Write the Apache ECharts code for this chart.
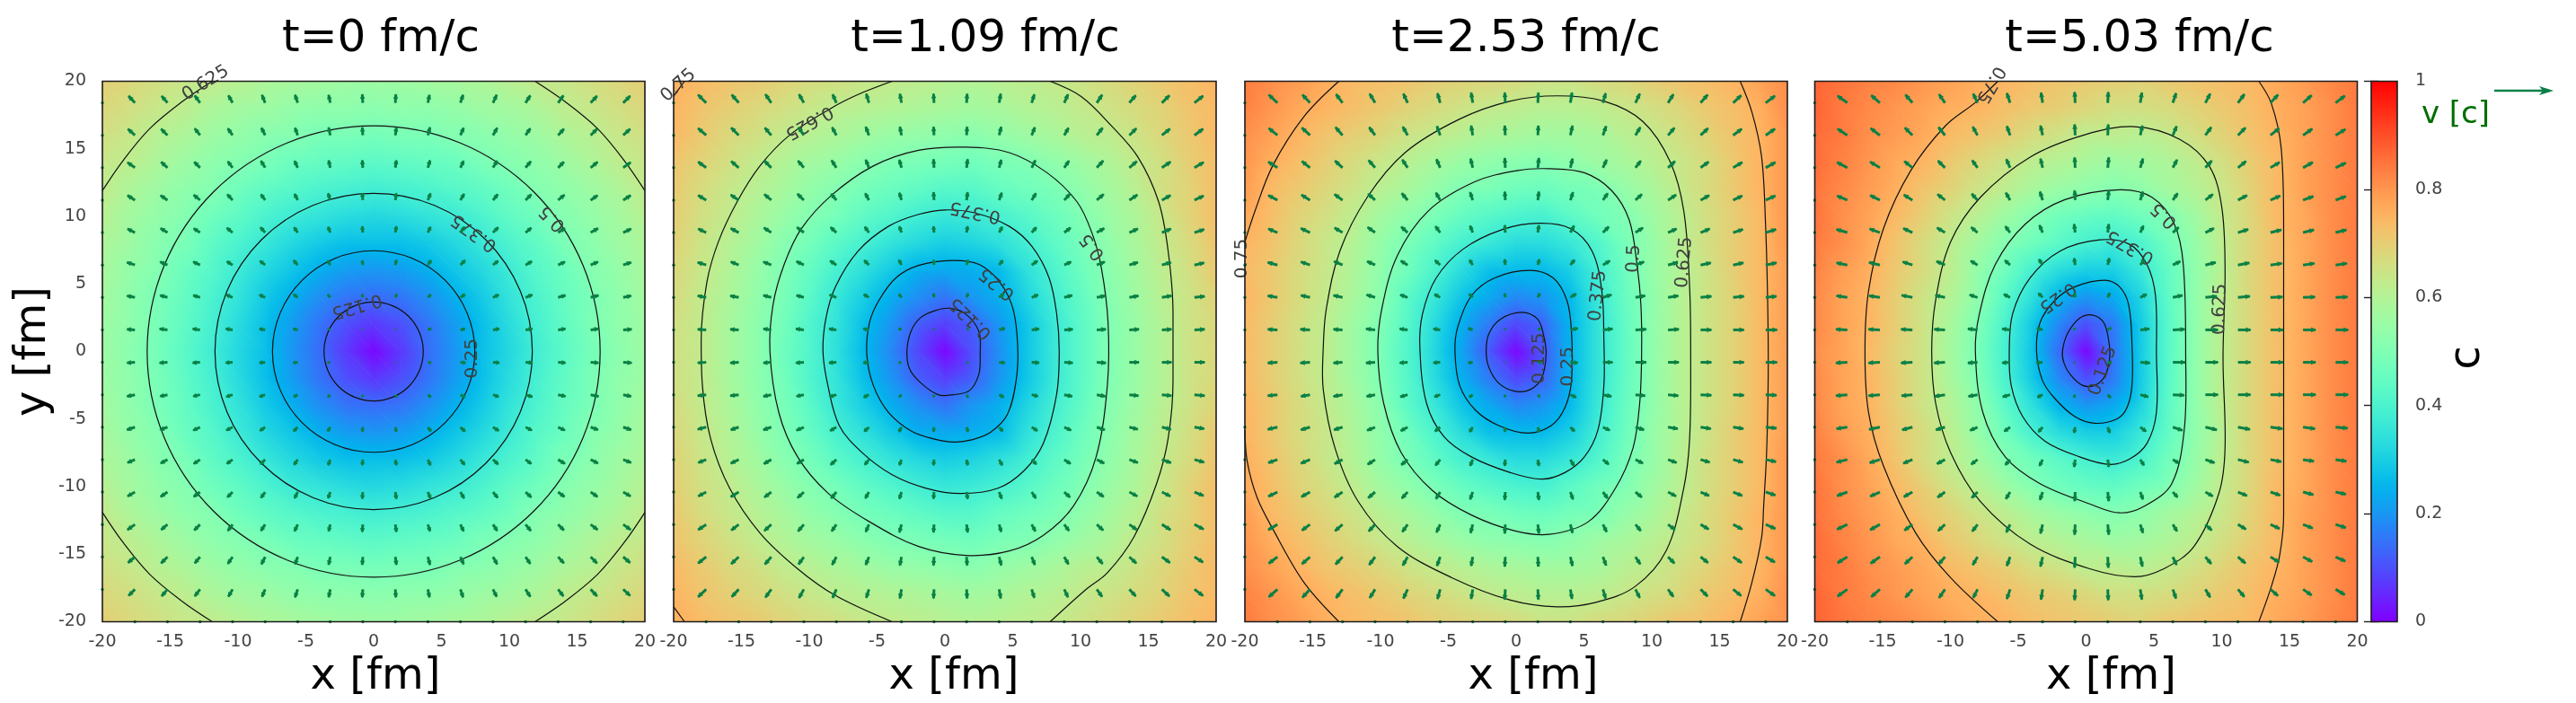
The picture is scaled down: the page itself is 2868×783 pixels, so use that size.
<!DOCTYPE html>
<html><head><meta charset="utf-8">
<style>html,body{margin:0;padding:0;background:#fff}#chart{width:2868px;height:783px}</style>
<script src="https://cdn.jsdelivr.net/npm/echarts@6/dist/echarts.min.js"></script>
</head><body><div id="chart"></div>
<script>
// ---------- tick labels / titles ----------
const panelTitles = ['t=0 fm/c','t=1.09 fm/c','t=2.53 fm/c','t=5.03 fm/c'];
// field sample positions (fm)
const fieldX = [-20,-18,-16,-14,-12,-10,-8,-6,-4,-2,0,2,4,6,8,10,12,14,16,18,20];
const fieldY = [20,18,16,14,12,10,8,6,4,2,0,-2,-4,-6,-8,-10,-12,-14,-16,-18,-20];
// colour value c, in hundredths; row = fieldY, col = fieldX
const cT0 = [
[70,68,66,64,63,61,59,58,57,56,56,56,57,58,59,61,63,64,66,68,70],
[68,66,64,62,59,57,56,54,53,53,52,53,53,54,56,57,59,62,64,66,68],
[66,64,61,59,56,54,52,51,49,49,48,49,49,51,52,54,56,59,61,64,66],
[64,62,59,56,53,51,49,46,45,44,43,44,45,46,49,51,53,56,59,62,64],
[63,59,56,53,51,47,44,42,40,39,38,39,40,42,44,47,51,53,56,59,63],
[61,57,54,51,47,44,40,37,35,33,32,33,35,37,40,44,47,51,54,57,61],
[59,56,52,49,44,40,36,32,29,27,27,27,29,32,36,40,44,49,52,56,59],
[58,54,51,46,42,37,32,28,24,21,20,21,24,28,32,37,42,46,51,54,58],
[57,53,49,45,40,35,29,24,19,15,14,15,19,24,29,35,40,45,49,53,57],
[56,53,49,44,39,33,27,21,15,10,7,10,15,21,27,33,39,44,49,53,56],
[56,52,48,43,38,32,27,20,14,7,1,7,14,20,27,32,38,43,48,52,56],
[56,53,49,44,39,33,27,21,15,10,7,10,15,21,27,33,39,44,49,53,56],
[57,53,49,45,40,35,29,24,19,15,14,15,19,24,29,35,40,45,49,53,57],
[58,54,51,46,42,37,32,28,24,21,20,21,24,28,32,37,42,46,51,54,58],
[59,56,52,49,44,40,36,32,29,27,27,27,29,32,36,40,44,49,52,56,59],
[61,57,54,51,47,44,40,37,35,33,32,33,35,37,40,44,47,51,54,57,61],
[63,59,56,53,51,47,44,42,40,39,38,39,40,42,44,47,51,53,56,59,63],
[64,62,59,56,53,51,49,46,45,44,43,44,45,46,49,51,53,56,59,62,64],
[66,64,61,59,56,54,52,51,49,49,48,49,49,51,52,54,56,59,61,64,66],
[68,66,64,62,59,57,56,54,53,53,52,53,53,54,56,57,59,62,64,66,68],
[70,68,66,64,63,61,59,58,57,56,56,56,57,58,59,61,63,64,66,68,70]];
const cT1 = [
[76,74,72,71,69,67,66,64,63,62,61,60,61,62,63,65,67,69,71,73,75],
[75,72,70,68,66,64,62,61,60,59,58,57,58,60,61,63,65,67,69,72,74],
[74,71,68,66,63,61,59,57,55,54,53,52,54,56,58,61,62,65,68,71,74],
[72,69,66,63,60,57,55,52,50,49,48,47,49,50,53,56,59,63,66,70,73],
[71,67,64,61,58,54,51,48,46,44,42,42,45,47,49,53,57,61,66,69,73],
[70,66,63,59,55,51,48,44,41,38,36,37,39,42,46,50,55,59,64,69,73],
[69,65,61,57,52,48,43,39,35,32,30,31,34,38,43,48,53,58,63,67,72],
[68,64,60,55,50,45,39,34,29,24,23,24,26,34,40,46,52,57,62,66,71],
[67,63,59,54,49,43,36,30,24,19,15,20,24,31,38,44,51,56,61,65,69],
[66,63,58,53,48,41,35,27,20,12,8,12,20,28,36,43,50,55,60,65,68],
[66,63,58,53,47,41,34,26,18,9,1,10,19,28,36,43,50,55,60,65,68],
[66,63,58,53,48,41,35,27,20,12,8,12,20,28,36,43,50,55,60,65,68],
[67,63,59,54,49,43,36,30,24,19,15,20,24,31,38,44,51,56,61,65,69],
[68,64,60,55,50,45,39,34,29,24,23,24,26,34,40,46,52,57,62,66,71],
[69,65,61,57,52,48,43,39,35,32,30,31,34,38,43,48,53,58,63,67,72],
[70,66,63,59,55,51,48,44,41,38,36,37,39,42,46,50,55,59,64,69,73],
[71,67,64,61,58,54,51,48,46,44,42,42,45,47,49,53,57,61,66,69,73],
[72,69,66,63,60,57,55,52,50,49,48,47,49,50,53,56,59,63,66,70,73],
[74,71,68,66,63,61,59,57,55,54,53,52,54,56,58,61,62,65,68,71,74],
[75,72,70,68,66,64,62,61,60,59,58,57,58,60,61,63,65,67,69,72,74],
[76,74,72,71,69,67,66,64,63,62,61,60,61,62,63,65,67,69,71,73,75]];
const cT2 = [
[84,81,79,76,74,73,72,70,69,68,67,65,65,67,68,70,72,73,75,78,81],
[83,80,77,75,73,71,69,67,65,63,62,61,61,62,64,66,68,71,73,76,81],
[81,78,75,72,70,68,65,63,61,59,58,57,57,58,61,63,66,69,72,75,80],
[80,76,73,70,67,64,61,58,55,53,52,51,53,56,58,61,64,67,71,75,80],
[79,74,71,68,65,61,58,54,50,49,47,46,48,49,54,58,63,67,71,75,80],
[77,73,69,66,62,57,53,49,45,42,40,39,43,47,50,56,61,66,70,74,80],
[75,72,68,64,60,54,49,44,39,36,33,33,36,41,48,54,61,66,70,74,80],
[74,71,67,64,59,53,47,40,33,27,26,26,30,38,46,54,60,65,70,74,79],
[75,71,67,63,58,52,43,36,28,23,18,20,26,36,45,53,60,65,69,74,79],
[74,70,66,62,56,50,42,33,24,16,9,13,25,35,44,53,60,65,69,74,79],
[74,70,66,62,56,49,41,32,22,11,1,11,25,35,44,53,60,65,69,74,79],
[74,70,66,62,56,50,42,33,24,16,9,13,25,35,44,53,60,65,69,74,79],
[75,71,67,63,58,52,43,36,28,23,18,20,26,36,45,53,60,65,69,74,79],
[75,71,67,64,59,53,47,40,33,27,26,26,30,38,46,54,60,65,70,74,79],
[76,72,68,64,60,54,49,44,39,36,33,33,36,41,48,54,61,66,70,74,80],
[77,73,69,66,62,57,53,49,45,42,40,39,43,47,50,56,61,66,70,74,80],
[79,74,71,68,65,61,58,54,50,49,47,46,48,49,54,58,63,67,71,75,80],
[80,76,73,70,67,64,61,58,55,53,52,51,53,56,58,61,64,67,71,75,80],
[81,78,75,72,70,68,65,63,61,59,58,57,57,58,61,63,66,69,72,75,80],
[83,80,77,75,73,71,69,67,65,63,62,61,61,62,64,66,68,71,73,76,81],
[84,81,79,76,74,73,72,70,69,68,67,65,65,67,68,70,72,73,75,78,81]];
const cT3 = [
[87,85,83,82,80,78,76,75,73,72,71,70,69,71,72,73,74,77,79,82,84],
[87,84,82,80,78,76,75,73,71,70,68,66,66,67,69,71,73,76,78,81,84],
[86,84,81,79,77,74,72,70,67,65,62,62,61,63,66,69,72,75,78,81,84],
[86,83,80,77,75,71,68,65,62,60,58,56,57,59,62,66,70,74,78,81,84],
[85,82,79,76,72,69,65,62,58,55,53,51,53,57,60,64,69,74,78,81,84],
[85,81,78,74,70,65,61,56,51,47,45,44,47,50,56,63,68,74,77,81,84],
[84,81,77,72,67,62,57,51,47,43,39,37,40,47,54,62,68,73,77,81,84],
[83,79,76,71,67,62,54,47,39,33,30,30,36,44,53,61,68,73,77,81,84],
[82,78,75,70,65,60,53,43,34,25,20,23,31,43,53,62,68,73,77,81,84],
[82,78,75,70,65,58,50,40,29,18,10,16,29,42,53,62,68,73,77,81,84],
[81,78,74,69,65,57,49,39,28,14,1,15,29,42,53,62,68,73,77,81,84],
[82,78,75,70,65,58,50,40,29,18,10,16,29,42,53,62,68,73,77,81,84],
[82,78,75,70,65,60,53,43,34,25,20,23,31,43,53,62,68,73,77,81,84],
[83,79,76,71,67,62,54,47,39,33,30,30,36,44,53,61,68,73,77,81,84],
[84,81,77,72,67,62,57,51,47,43,39,37,40,47,54,62,68,73,77,81,84],
[85,81,78,74,70,65,61,56,51,47,45,44,47,50,56,63,68,74,77,81,84],
[85,82,79,76,72,69,65,62,58,55,53,51,53,57,60,64,69,74,78,81,84],
[86,83,80,77,75,71,68,65,62,60,58,56,57,59,62,66,70,74,78,81,84],
[86,84,81,79,77,74,72,70,67,65,62,62,61,63,66,69,72,75,78,81,84],
[87,84,82,80,78,76,75,73,71,70,68,66,66,67,69,71,73,76,78,81,84],
[87,85,83,82,80,78,76,75,73,72,71,70,69,71,72,73,74,77,79,82,84]];

// velocity grid (fm) and components in hundredths of c; row = arrowY, col = arrowX
const arrowX = [-17.6,-15.2,-12.8,-10.4,-8,-5.6,-3.2,-0.8,1.6,4,6.4,8.8,11.2,13.6,16,18.4];
const arrowY = [18.4,16,13.6,11.2,8.8,6.4,4,1.6,-0.8,-3.2,-5.6,-8,-10.4,-12.8,-15.2,-17.6];
const edgeDotPos = [-20];
const vxT0 = [
[-12,-11,-10,-8,-6,-5,-3,-1,1,3,5,7,9,10,12,13],
[-13,-12,-10,-9,-7,-5,-3,-1,2,4,6,8,9,11,12,13],
[-14,-12,-11,-9,-8,-6,-3,-1,2,4,6,8,10,11,13,14],
[-14,-13,-12,-10,-8,-6,-4,-1,2,5,7,9,11,12,13,14],
[-14,-13,-12,-11,-9,-7,-4,-1,2,5,8,10,11,13,14,15],
[-15,-14,-13,-11,-10,-8,-5,-1,2,6,9,10,12,13,14,15],
[-15,-14,-13,-12,-11,-8,-5,-1,3,6,9,11,13,14,15,15],
[-15,-15,-14,-13,-11,-9,-5,-1,2,7,9,12,13,14,15,16],
[-15,-15,-14,-13,-11,-9,-6,-1,2,7,10,12,13,14,15,16],
[-15,-14,-13,-12,-11,-8,-5,-1,3,6,9,11,13,14,15,15],
[-15,-14,-13,-12,-10,-8,-5,-1,2,6,9,11,12,13,14,15],
[-14,-13,-12,-11,-9,-7,-4,-1,2,5,8,10,11,13,14,15],
[-14,-13,-12,-10,-8,-6,-4,-1,2,5,7,9,11,12,13,14],
[-14,-12,-11,-9,-8,-6,-3,-1,2,4,6,8,10,11,13,14],
[-13,-12,-10,-9,-7,-5,-3,-1,2,4,6,8,9,11,12,13],
[-12,-11,-10,-8,-6,-5,-3,-1,1,3,5,7,9,10,12,13]];
const vyT0 = [
[13,13,14,14,15,15,15,16,16,15,15,15,14,14,13,13],
[12,12,13,13,14,14,15,15,15,15,14,14,13,12,12,12],
[10,11,11,12,13,13,14,14,14,14,13,13,12,11,11,10],
[9,9,10,11,11,12,13,13,13,13,12,11,11,10,9,9],
[7,8,8,9,10,10,11,12,12,11,11,10,9,8,8,7],
[5,6,6,7,8,9,9,9,10,9,9,8,7,6,6,5],
[3,4,4,5,5,6,6,7,7,6,6,5,5,4,4,3],
[1,2,2,2,2,2,3,2,2,3,2,2,2,2,2,1],
[-1,-1,-1,-1,-1,-1,-1,-1,-1,-1,-1,-1,-1,-1,-1,-1],
[-3,-3,-3,-4,-4,-4,-5,-5,-6,-5,-5,-4,-4,-3,-3,-3],
[-5,-5,-6,-6,-7,-8,-8,-9,-9,-8,-8,-7,-6,-6,-5,-5],
[-6,-7,-8,-8,-9,-10,-11,-11,-11,-11,-10,-9,-8,-8,-7,-6],
[-8,-9,-9,-10,-11,-12,-12,-13,-13,-12,-12,-11,-10,-9,-9,-8],
[-10,-10,-11,-12,-12,-13,-13,-14,-14,-13,-13,-12,-12,-11,-10,-10],
[-11,-12,-12,-13,-14,-14,-15,-15,-15,-15,-14,-14,-13,-12,-12,-11],
[-12,-13,-13,-14,-14,-15,-15,-15,-15,-15,-15,-14,-14,-13,-13,-12]];
const vxT1 = [
[-15,-13,-11,-9,-7,-5,-3,-1,1,3,5,7,10,12,14,16],
[-15,-14,-12,-10,-8,-6,-3,-1,1,4,6,8,11,13,15,16],
[-15,-14,-13,-11,-9,-6,-4,-1,2,4,7,9,12,14,16,17],
[-15,-15,-13,-12,-10,-7,-4,-1,2,5,8,11,13,15,16,17],
[-15,-15,-14,-13,-11,-8,-4,-1,2,6,9,12,14,16,17,18],
[-16,-15,-15,-14,-12,-9,-5,-1,3,7,11,13,15,16,17,18],
[-16,-16,-15,-14,-13,-10,-5,-1,3,9,12,15,16,17,18,19],
[-16,-16,-15,-15,-14,-11,-6,-1,4,11,14,16,17,18,18,19],
[-16,-16,-15,-15,-14,-11,-6,-1,4,11,14,16,17,18,18,19],
[-16,-16,-15,-14,-13,-10,-5,-1,3,9,12,15,16,17,18,19],
[-16,-15,-15,-14,-12,-9,-5,-1,3,7,11,13,15,16,17,18],
[-15,-15,-14,-13,-11,-8,-4,-1,2,6,9,12,14,16,17,18],
[-15,-15,-13,-12,-10,-7,-4,-1,2,5,8,11,13,15,16,17],
[-15,-14,-13,-11,-9,-6,-4,-1,2,4,7,9,12,14,16,17],
[-15,-14,-12,-10,-8,-6,-3,-1,1,4,6,8,11,13,15,16],
[-15,-13,-11,-9,-7,-5,-3,-1,1,3,5,7,10,12,14,16]];
const vyT1 = [
[15,15,16,16,16,17,17,17,17,17,16,16,15,14,14,13],
[13,14,14,15,15,16,16,16,16,16,15,14,14,13,12,12],
[11,12,13,13,14,15,15,16,16,15,14,13,13,12,11,10],
[9,10,11,12,12,13,14,15,15,14,13,12,11,10,9,8],
[7,8,9,10,10,11,12,12,12,11,10,9,8,7,7,6],
[5,6,6,7,8,9,10,10,10,9,8,6,6,5,5,4],
[3,3,4,4,5,6,7,8,8,7,5,4,3,3,3,2],
[1,1,2,2,2,2,3,3,3,3,2,1,1,1,1,1],
[-1,-1,-1,-1,-1,-1,-1,-1,-1,-1,-1,-1,-1,0,0,0],
[-2,-2,-3,-3,-4,-5,-5,-5,-6,-5,-3,-3,-3,-2,-2,-2],
[-4,-5,-5,-6,-7,-8,-9,-9,-9,-8,-7,-6,-5,-4,-4,-3],
[-6,-7,-8,-8,-10,-10,-11,-11,-11,-11,-9,-8,-7,-6,-6,-5],
[-8,-9,-10,-11,-12,-12,-13,-13,-13,-13,-12,-10,-9,-8,-8,-7],
[-10,-11,-12,-13,-13,-14,-15,-15,-15,-14,-13,-12,-11,-10,-10,-9],
[-12,-13,-14,-14,-15,-15,-16,-16,-16,-16,-15,-14,-13,-12,-11,-10],
[-14,-14,-15,-16,-16,-16,-17,-17,-17,-17,-16,-15,-14,-13,-13,-12]];
const vxT2 = [
[-16,-14,-12,-10,-8,-5,-3,-1,1,3,5,8,10,13,15,17],
[-16,-15,-13,-11,-9,-6,-3,-1,1,4,6,9,12,14,16,17],
[-17,-15,-14,-12,-10,-7,-4,-1,2,4,7,10,13,15,17,18],
[-17,-16,-15,-13,-11,-8,-5,-1,2,5,9,12,15,16,17,18],
[-17,-17,-15,-14,-12,-9,-5,-1,2,7,11,14,16,17,18,19],
[-18,-17,-16,-15,-13,-10,-6,-1,3,8,13,16,18,19,19,20],
[-18,-17,-17,-16,-14,-11,-7,-1,4,11,16,18,19,20,20,20],
[-18,-18,-17,-17,-15,-13,-9,-2,6,14,18,20,20,20,20,21],
[-18,-18,-17,-17,-15,-13,-9,-2,7,14,18,20,20,20,20,21],
[-18,-17,-17,-16,-14,-11,-7,-1,4,11,16,18,19,20,20,20],
[-18,-17,-16,-15,-13,-10,-6,-1,3,8,13,16,18,19,19,20],
[-17,-17,-15,-14,-12,-9,-5,-1,2,7,11,14,16,17,18,19],
[-17,-16,-15,-13,-11,-8,-5,-1,2,5,9,12,15,16,17,18],
[-17,-15,-14,-12,-10,-7,-4,-1,2,4,7,10,13,15,17,18],
[-16,-15,-13,-11,-9,-6,-3,-1,1,4,6,9,12,14,16,17],
[-16,-14,-12,-10,-8,-5,-3,-1,1,3,5,8,10,13,15,17]];
const vyT2 = [
[15,15,16,17,17,18,19,19,19,19,18,17,16,15,14,13],
[13,14,15,15,16,17,18,18,18,18,17,15,14,13,12,12],
[11,12,13,14,15,16,17,18,18,17,15,13,12,11,10,10],
[9,10,11,12,13,14,15,16,16,15,13,11,10,9,8,8],
[7,8,9,10,11,12,13,14,14,13,11,9,7,7,6,6],
[5,6,7,7,8,9,10,11,11,10,8,6,5,4,4,4],
[3,4,4,5,5,6,7,8,8,7,5,3,3,2,2,2],
[1,1,1,2,2,2,3,3,3,3,2,1,1,0,0,0],
[-1,-1,-1,-1,-1,-1,-1,-1,-1,-1,0,0,0,0,0,0],
[-2,-3,-3,-3,-4,-4,-5,-5,-5,-5,-3,-2,-2,-1,-1,-1],
[-4,-5,-5,-6,-7,-8,-9,-9,-9,-8,-6,-5,-3,-3,-3,-2],
[-6,-7,-8,-9,-10,-11,-12,-12,-12,-12,-9,-7,-6,-5,-5,-4],
[-8,-9,-10,-11,-12,-13,-14,-15,-15,-14,-12,-10,-8,-7,-7,-6],
[-10,-11,-12,-13,-14,-15,-16,-17,-17,-16,-14,-12,-10,-9,-9,-8],
[-12,-13,-14,-15,-16,-17,-17,-18,-18,-17,-16,-14,-12,-11,-11,-10],
[-14,-15,-16,-16,-17,-18,-18,-19,-19,-18,-17,-16,-14,-13,-12,-12]];
const vxT3 = [
[-18,-16,-13,-11,-8,-6,-3,-1,1,3,6,9,12,14,16,17],
[-18,-17,-14,-12,-9,-6,-4,-1,1,4,7,11,14,16,17,18],
[-19,-18,-15,-13,-10,-7,-4,-1,2,5,8,12,15,17,18,19],
[-19,-18,-16,-14,-11,-8,-5,-1,2,5,9,14,17,18,19,19],
[-20,-19,-17,-15,-12,-9,-6,-2,2,6,11,16,19,20,20,20],
[-20,-20,-18,-16,-13,-10,-7,-2,3,8,14,19,21,21,21,21],
[-20,-20,-20,-18,-15,-12,-8,-2,4,12,18,21,22,22,22,22],
[-21,-21,-21,-20,-18,-15,-11,-3,7,17,22,23,23,23,23,23],
[-21,-21,-21,-20,-18,-15,-12,-3,8,18,23,23,23,23,23,23],
[-21,-21,-20,-19,-17,-14,-10,-3,6,15,21,23,23,23,23,23],
[-20,-20,-19,-17,-14,-11,-8,-2,4,11,18,21,22,22,22,22],
[-20,-19,-17,-15,-12,-9,-6,-2,2,7,12,17,20,20,20,20],
[-19,-18,-16,-14,-11,-8,-5,-1,2,5,9,14,17,18,19,19],
[-19,-18,-15,-13,-10,-7,-4,-1,2,5,8,12,15,17,18,19],
[-18,-17,-14,-12,-9,-6,-4,-1,1,4,7,11,14,16,17,18],
[-18,-16,-13,-11,-8,-6,-3,-1,1,3,6,9,12,14,16,17]];
const vyT3 = [
[13,14,15,16,17,18,19,20,20,19,18,17,16,15,14,13],
[12,13,14,15,16,17,18,20,20,18,17,15,14,13,12,11],
[10,11,12,13,14,16,17,19,19,17,15,13,12,10,10,9],
[8,9,10,11,12,14,16,18,18,16,13,11,9,8,7,7],
[6,7,8,9,10,12,14,16,16,13,10,8,6,5,5,5],
[4,5,6,7,8,9,11,13,13,10,7,5,4,3,3,3],
[3,3,4,4,5,6,8,9,9,6,4,2,2,1,1,1],
[1,1,1,1,2,2,3,4,4,2,1,0,0,0,0,0],
[-1,-1,-1,-1,-1,-1,-1,-1,-1,-1,0,0,0,0,0,0],
[-2,-2,-2,-3,-3,-4,-5,-6,-6,-4,-1,0,0,0,0,0],
[-3,-4,-5,-5,-6,-8,-9,-11,-11,-8,-6,-5,-4,-3,-3,-2],
[-5,-6,-7,-8,-9,-10,-12,-14,-14,-11,-7,-6,-5,-4,-3,-3],
[-7,-8,-9,-10,-11,-13,-15,-17,-17,-14,-10,-8,-7,-6,-5,-4],
[-9,-10,-11,-12,-13,-15,-17,-19,-19,-16,-13,-11,-9,-8,-7,-6],
[-11,-12,-13,-14,-15,-17,-18,-20,-20,-18,-15,-13,-12,-10,-9,-8],
[-13,-14,-15,-16,-16,-18,-19,-20,-20,-19,-17,-15,-14,-12,-11,-10]];

// contour lines: flat x,y lists in fm
const contourLinesT0 = [
[3.66,0,3.38,1.4,2.59,2.59,1.4,3.38,0,3.66,-1.4,3.38,-2.59,2.59,-3.38,1.4,-3.66,0,-3.38,-1.4,-2.59,-2.59,-1.4,-3.38,0,-3.66,1.4,-3.38,2.59,-2.59,3.38,-1.4,3.66,0],
[7.46,0,6.89,2.85,5.27,5.27,2.85,6.89,0,7.46,-2.85,6.89,-5.27,5.27,-6.89,2.85,-7.46,0,-6.89,-2.85,-5.27,-5.27,-2.85,-6.89,0,-7.46,2.85,-6.89,5.27,-5.27,6.89,-2.85,7.46,0],
[11.7,0,10.81,4.48,8.27,8.27,4.48,10.81,0,11.7,-4.48,10.81,-8.27,8.27,-10.81,4.48,-11.7,0,-10.81,-4.48,-8.27,-8.27,-4.48,-10.81,0,-11.7,4.48,-10.81,8.27,-8.27,10.81,-4.48,11.7,0],
[16.7,0,15.43,6.39,11.81,11.81,6.39,15.43,0,16.7,-6.39,15.43,-11.81,11.81,-15.43,6.39,-16.7,0,-15.43,-6.39,-11.81,-11.81,-6.39,-15.43,0,-16.7,6.39,-15.43,11.81,-11.81,15.43,-6.39,16.7,0],
[20,11.9,18.5,14.1,16.5,16.5,14.1,18.5,11.9,20],
[-20,11.9,-18.5,14.1,-16.5,16.5,-14.1,18.5,-11.9,20],
[20,-11.9,18.5,-14.1,16.5,-16.5,14.1,-18.5,11.9,-20],
[-20,-11.9,-18.5,-14.1,-16.5,-16.5,-14.1,-18.5,-11.9,-20]];
const contourLinesT1 = [
[-2.8,0,-2.5,1.5,-1.8,2.5,-0.8,3,0.3,3.2,1.5,2.8,2.5,1.5,2.6,-0.2,2.5,-1.7,1.8,-2.9,0.6,-3.2,-0.5,-3.2,-1.8,-2.3,-2.6,-1.3,-2.8,0],
[-5.76,-0.18,-5.56,2.14,-4.86,3.79,-3.61,5.45,-1.94,6.37,0.57,6.74,2.52,6.44,4.06,5.11,5.03,3.13,5.37,0.31,5.25,-2.17,4.61,-4.65,3.36,-5.98,1.97,-6.54,0.71,-6.7,-0.82,-6.47,-2.49,-5.88,-4.17,-4.49,-5.28,-2.5,-5.76,-0.18],
[-8.99,0,-8.77,2.47,-8.07,4.79,-6.4,7.43,-4.17,9.26,-1.94,10.15,0,10.48,2.24,10.25,4.75,9.26,6.43,7.76,7.68,5.45,8.24,2.8,8.43,0,8.24,-3.16,7.26,-6.8,5.87,-8.79,3.92,-10.12,1.13,-10.51,-1.38,-10.12,-3.89,-9.12,-6.12,-7.47,-7.79,-5.48,-8.63,-2.5,-8.99,0],
[-12.9,0,-12.67,3.46,-11.85,6.44,-10.58,9.09,-8.35,11.57,-5.28,13.73,-1.94,14.89,1.55,15.12,4.75,14.72,7.53,13.23,9.74,11.08,10.85,8.76,11.55,6.11,12.03,2.14,11.98,-2.5,11.15,-7.8,9.48,-11.44,7.26,-13.6,4.75,-14.76,1.55,-15.09,-1.94,-14.43,-5.56,-12.6,-8.63,-10.47,-10.86,-7.8,-12.25,-4.5,-12.9,0],
[-3.89,20,-6.4,19.02,-8.35,18.03,-11.42,16.04,-13.64,13.73,-15.32,11.08,-16.71,8.1,-17.55,5.12,-17.97,0.81,-17.88,-2.5,-17.27,-6.47,-15.87,-10.12,-13.64,-13.43,-10.86,-16.08,-8.07,-18.06,-3.89,-20],
[7.76,20,10.05,18.87,12.28,16.7,14.23,14.39,15.76,11.08,16.46,7.44,16.82,2.8,16.82,-2.14,16.46,-6.44,15.62,-9.75,13.95,-13.7,12,-16.35,10.33,-17.67,7.76,-20],
[-20,18.9,-19.2,20],
[-20,-18.9,-19.2,-20]];
const contourLinesT2 = [
[-2.21,0,-2.01,1.31,-1.15,2.4,0.43,2.9,1.58,2.4,2,1.31,2.21,-0.18,1.87,-2,1.01,-2.83,-0.14,-2.93,-1.29,-2.33,-2.01,-1.17,-2.21,0],
[-4.51,0,-4.31,1.8,-3.3,4.12,-1.58,5.45,1.01,6.01,2.73,5.45,3.74,3.79,4.08,1.47,4.08,-2.17,3.59,-4.17,2.59,-5.48,0.86,-6.04,-1.29,-5.48,-3.02,-4.32,-4.17,-2.5,-4.51,0],
[-7.1,0.31,-6.9,2.8,-5.89,5.45,-3.88,7.6,-1.01,9.03,1.72,9.49,4.02,9.09,5.6,7.43,6.32,4.45,6.47,0.81,6.47,-2.5,6.03,-5.8,5.03,-7.8,3.59,-8.96,1.87,-9.45,-0.43,-8.96,-3.3,-7.8,-5.32,-6.31,-6.61,-3.82,-7.1,0.31],
[-10.2,0,-9.91,3.13,-8.76,7.1,-6.47,10.41,-3.02,12.57,0.14,13.4,2.44,13.53,5.03,13.23,7.04,11.91,8.33,9.75,8.91,6.44,9.2,3.46,9.25,-0.18,9.11,-3.82,8.62,-7.13,7.33,-10.1,5.32,-12.6,2.44,-13.53,-0.14,-13.26,-3.3,-12.1,-6.18,-10.28,-8.48,-7.47,-9.77,-3.82,-10.2,0],
[-14.22,0.31,-14,3.13,-13,7.43,-10.98,11.41,-8.19,14.72,-4.17,17.2,-0.43,18.53,3.02,18.92,6.47,18.53,9.34,17.03,11.35,14.06,12.36,10.41,12.79,4.79,12.87,-0.18,12.79,-6.47,12.36,-10.1,11.06,-14.75,8.76,-17.4,5.89,-18.56,3.02,-18.89,-0.43,-18.4,-4.74,-16.74,-8.76,-14.43,-11.64,-11.11,-13.36,-7.13,-14.22,-2.83,-14.22,0.31],
[-13.07,20,-15.66,17.37,-17.96,13.73,-19.25,10.41,-20,8.1],
[-20,-5.81,-19.83,-8.13,-19.11,-10.78,-17.96,-13.1,-15.66,-17.07,-13.07,-20],
[16.52,20,17.39,17.7,18.1,14.39,18.39,9.42,18.53,4.45,18.59,-0.5,18.48,-7.13,18.25,-11.44,18.1,-13.76,17.39,-17.07,16.52,-20]];
const contourLinesT3 = [
[-1.74,0,-1.37,1.31,-0.46,2.47,0.46,2.7,1.3,2.14,1.67,0.81,1.74,-0.51,1.37,-1.84,0.64,-2.5,-0.27,-2.5,-1.19,-1.67,-1.63,-0.84,-1.74,0],
[-3.65,0,-3.39,2.14,-2.29,3.79,-0.82,4.79,1.37,5.28,2.47,4.79,3.14,3.46,3.39,0.48,3.39,-2.5,3.02,-4.15,2.29,-4.98,0.64,-5.31,-0.82,-4.82,-2.29,-3.49,-3.21,-2.15,-3.65,0],
[-5.66,0,-5.41,2.8,-4.12,5.45,-1.92,7.43,1.01,8.26,3.21,7.93,4.49,6.44,5.12,4.12,5.19,-0.18,5.19,-4.5,4.49,-6.8,3.21,-7.96,1.74,-8.36,-0.46,-7.8,-3.02,-6.64,-4.67,-4.82,-5.52,-2.5,-5.66,0],
[-8.16,0,-7.86,2.8,-6.69,6.44,-4.49,9.42,-1.56,11.24,2.47,11.97,4.86,11.41,6.51,9.42,7.17,6.44,7.35,-0.51,7.24,-5.8,6.32,-9.78,4.31,-11.44,2.47,-11.94,0.27,-11.28,-3.39,-9.78,-5.96,-7.8,-7.61,-4.5,-8.16,0],
[-11.38,0,-11.09,3.79,-9.99,8.1,-7.79,11.41,-4.12,14.39,-0.09,16.04,3.58,16.64,6.88,15.72,9.08,13.73,10,10.74,10.25,6.11,10.1,-0.51,10.25,-7.13,9.81,-10.45,7.97,-14.41,5.77,-16.06,3.58,-16.67,0.27,-16.08,-4.12,-14.26,-7.79,-11.11,-9.99,-7.47,-11.09,-3.82,-11.38,0],
[-6.5,20,-8.16,18.43,-10.36,16.71,-12.92,13.4,-14.94,9.09,-16.04,4.45,-16.3,0,-16.04,-4.49,-14.94,-8.46,-12.56,-13.43,-9.99,-16.74,-6.51,-20],
[12.74,20,13.66,18.36,14.39,15.05,14.57,9.42,14.57,-0.5,14.57,-12.1,14.28,-15.08,13.66,-17.4,12.74,-20]];
// contour labels: x (fm), y (fm), angle in degrees, text
const contourLabelsT0 = [[-12.39,19.85,32,'0.625'],[13.19,9.85,134,'0.5'],[7.42,8.82,144,'0.375'],[7.26,-0.51,90,'0.25'],[-1.25,3.39,196,'0.125']];
const contourLabelsT1 = [[-19.64,19.69,42,'0.75'],[-10.02,16.97,209,'0.625'],[2.24,10.35,168,'0.375'],[10.89,7.76,127,'0.5'],[3.86,5.02,140,'0.25'],[1.91,2.47,135,'0.125']];
const contourLabelsT2 = [[-20.2,6.87,90,'0.75'],[1.72,-0.51,90,'0.125'],[3.82,-1.11,90,'0.25'],[6.03,4.12,84,'0.375'],[8.68,6.87,87,'0.5'],[12.41,6.6,85,'0.625']];
const contourLabelsT3 = [[-7.06,19.75,240,'0.75'],[9.88,3.13,88,'0.625'],[5.77,10.08,135,'0.5'],[3.28,7.76,150,'0.375'],[-2.11,4.02,215,'0.25'],[1.26,-1.44,70,'0.125']];

// ---------- layout and style ----------
const FONT = '"DejaVu Sans"';
const panelLeft = [114,750,1386,2020.5];
const panelWidth = 604, panelTop = 90.5, panelHeight = 602;
const barLeft = 2640, barWidth = 29;
const titleCenter = [419,1092,1694,2377];
const xNameShift = [2,10,19,28];
const pxPerC = 65;
const ARROW = '#0a8045';
const cTables = [cT0,cT1,cT2,cT3], vxTables=[vxT0,vxT1,vxT2,vxT3], vyTables=[vyT0,vyT1,vyT2,vyT3];
const lineTables = [contourLinesT0,contourLinesT1,contourLinesT2,contourLinesT3];
const labelTables = [contourLabelsT0,contourLabelsT1,contourLabelsT2,contourLabelsT3];

// gnuplot "rainbow" palette (colour scale only)
function rainbow(v){
  v=Math.max(0,Math.min(1,v));
  const r=Math.min(1,Math.abs(2*v-0.5)), g=Math.sin(Math.PI*v), b=Math.cos(Math.PI*v/2);
  return 'rgb('+Math.round(r*255)+','+Math.round(g*255)+','+Math.round(b*255)+')';
}
function gradientStops(c0,c1){
  const n=Math.max(1,Math.ceil(Math.abs(c1-c0)/0.03)); const s=[];
  for(let k=0;k<=n;k++) s.push({offset:k/n,color:rainbow(c0+(c1-c0)*k/n)});
  return s;
}
// shade one triangle of the read samples: colour varies linearly between its three corners
function tri(p,c){
  const dx1=p[1][0]-p[0][0],dy1=p[1][1]-p[0][1],dx2=p[2][0]-p[0][0],dy2=p[2][1]-p[0][1];
  const det=dx1*dy2-dx2*dy1;
  const a=((c[1]-c[0])*dy2-(c[2]-c[0])*dy1)/det, b=((c[2]-c[0])*dx1-(c[1]-c[0])*dx2)/det;
  const g2=a*a+b*b, lo=Math.min(c[0],c[1],c[2]), hi=Math.max(c[0],c[1],c[2]);
  let paint;
  if(g2<1e-12||hi-lo<1e-6){ paint=rainbow(c[0]); }
  else{
    const m=p[c.indexOf(lo)];
    paint={type:'linear',global:true,x:m[0],y:m[1],x2:m[0]+a*(hi-lo)/g2,y2:m[1]+b*(hi-lo)/g2,colorStops:gradientStops(lo,hi)};
  }
  return {type:'polygon',silent:true,shape:{points:p},style:{fill:paint,stroke:paint,lineWidth:1}};
}
function renderCell(params,api){
  const P=(x,y)=>api.coord([x,y]);
  const x0=api.value(0),y0=api.value(1),x1=api.value(2),y1=api.value(3);
  const a=P(x0,y0),b=P(x1,y0),c=P(x1,y1),d=P(x0,y1);
  const ca=api.value(4)/100,cb=api.value(5)/100,cc=api.value(6)/100,cd=api.value(7)/100;
  return {type:'group',children:[tri([a,b,c],[ca,cb,cc]),tri([a,c,d],[ca,cc,cd])]};
}
function renderArrow(params,api){
  const s=api.coord([api.value(0),api.value(1)]);
  const ux=api.value(2)/100*pxPerC, uy=-api.value(3)/100*pxPerC;
  const L=Math.hypot(ux,uy);
  if(L<0.4){
    return {type:'circle',silent:true,shape:{cx:s[0],cy:s[1],r:1.7},style:{fill:ARROW}};
  }
  const e=[s[0]+ux,s[1]+uy], nx=ux/L, ny=uy/L, hl=Math.min(6,L*0.55), hw=Math.min(2.8,Math.max(1.7,L*0.4));
  const b=[e[0]-nx*hl,e[1]-ny*hl];
  return {type:'group',silent:true,children:[
    {type:'line',shape:{x1:s[0],y1:s[1],x2:e[0]-nx*1,y2:e[1]-ny*1},style:{stroke:ARROW,lineWidth:3,lineCap:'butt'}},
    {type:'polygon',shape:{points:[e,[b[0]-ny*hw,b[1]+nx*hw],[b[0]+ny*hw,b[1]-nx*hw]]},style:{fill:ARROW}}
  ]};
}
function renderText(params,api){
  const p=api.coord([api.value(0),api.value(1)]);
  return {type:'text',silent:true,x:p[0],y:p[1],rotation:api.value(2)*Math.PI/180,
    style:{text:String(api.value(3)),fill:'#404040',font:'20px '+FONT,align:'center',verticalAlign:'middle'}};
}
function renderFrame(params,api){
  const a=api.coord([api.value(0),api.value(1)]), b=api.coord([api.value(2),api.value(3)]);
  return {type:'rect',silent:true,shape:{x:a[0],y:b[1],width:b[0]-a[0],height:a[1]-b[1]},style:{fill:'none',stroke:'#1c1c1c',lineWidth:1.6}};
}
function renderBar(params,api){
  const a=api.coord([0,0]), b=api.coord([1,1]);
  return {type:'rect',silent:true,shape:{x:a[0],y:b[1],width:b[0]-a[0],height:a[1]-b[1]},
    style:{fill:{type:'linear',x:0,y:1,x2:0,y2:0,colorStops:gradientStops(0,1)}}};
}
// a closed contour: one smooth loop through its read points, no seam
function renderLoop(params,api){
  if(params.dataIndex!==0) return;
  const pts=[]; const n=params.dataInsideLength;
  const data=loopStore[params.seriesName];
  data.forEach(d=>pts.push(api.coord(d)));
  return {type:'polygon',silent:true,shape:{points:pts,smooth:0.35},style:{fill:'none',stroke:'#111',lineWidth:1.2}};
}
const loopStore={};
function pairs(f){const o=[];for(let i=0;i<f.length;i+=2)o.push([f[i],f[i+1]]);return o;}

const grids=[],xAxes=[],yAxes=[],series=[],titles=[];
const tickStyle={color:'#444',fontFamily:FONT,fontSize:19};
panelTitles.forEach((t,n)=>{
  titles.push({text:t,left:titleCenter[n],top:14,textAlign:'center',textStyle:{fontFamily:FONT,fontSize:50,fontWeight:'normal',color:'#000'}});
  grids.push({left:panelLeft[n],top:panelTop,width:panelWidth,height:panelHeight,show:false,outerBoundsMode:'none'});
  xAxes.push({type:'value',gridIndex:n,min:-20,max:20,interval:5,name:'x [fm]',nameLocation:'middle',nameGap:38,
    nameTextStyle:{fontFamily:FONT,fontSize:48,color:'#000',padding:[0,0,0,2*xNameShift[n]]},
    axisLine:{show:false},axisTick:{show:false},splitLine:{show:false},axisLabel:Object.assign({margin:13,hideOverlap:false},tickStyle)});
  yAxes.push({type:'value',gridIndex:n,min:-20,max:20,interval:5,
    name:n===0?'y [fm]':'',nameLocation:'middle',nameGap:47,nameTextStyle:{fontFamily:FONT,fontSize:48,color:'#000'},
    axisLine:{show:false},axisTick:{show:false},splitLine:{show:false},
    axisLabel:Object.assign({show:n===0,margin:18,hideOverlap:false},tickStyle)});
  const cells=[], tb=cTables[n];
  for(let j=0;j<fieldY.length-1;j++)for(let i=0;i<fieldX.length-1;i++)
    cells.push([fieldX[i],fieldY[j],fieldX[i+1],fieldY[j+1],tb[j][i],tb[j][i+1],tb[j+1][i+1],tb[j+1][i]]);
  series.push({type:'custom',xAxisIndex:n,yAxisIndex:n,coordinateSystem:'cartesian2d',renderItem:renderCell,data:cells,z:1,clip:true,silent:true,progressive:0,animation:false});
  lineTables[n].forEach((f,k)=>{
    const pts=pairs(f), last=pts.length-1;
    if(last>3&&pts[0][0]===pts[last][0]&&pts[0][1]===pts[last][1]){
      const name='loop-'+n+'-'+k; loopStore[name]=pts.slice(0,last);
      series.push({type:'custom',name:name,xAxisIndex:n,yAxisIndex:n,coordinateSystem:'cartesian2d',renderItem:renderLoop,data:pts.slice(0,last),z:2,silent:true,progressive:0,animation:false});
    }else{
      series.push({type:'line',xAxisIndex:n,yAxisIndex:n,data:pts,showSymbol:false,smooth:0.35,clip:true,silent:true,z:2,animation:false,lineStyle:{color:'#111',width:1.2}});
    }
  });
  const arrows=[];
  arrowY.forEach((y,j)=>arrowX.forEach((x,i)=>arrows.push([x,y,vxTables[n][j][i],vyTables[n][j][i]])));
  arrowY.forEach(y=>arrows.push([edgeDotPos[0],y,0,0]));
  arrowX.forEach(x=>arrows.push([x,edgeDotPos[0],0,0]));
  series.push({type:'custom',xAxisIndex:n,yAxisIndex:n,coordinateSystem:'cartesian2d',renderItem:renderArrow,data:arrows,z:4,silent:true,progressive:0,animation:false});
  series.push({type:'custom',xAxisIndex:n,yAxisIndex:n,coordinateSystem:'cartesian2d',renderItem:renderText,data:labelTables[n],
    encode:{x:0,y:1},dimensions:['x','y','a',{name:'t',type:'ordinal'}],z:3,silent:true,progressive:0,animation:false});
  series.push({type:'custom',xAxisIndex:n,yAxisIndex:n,coordinateSystem:'cartesian2d',renderItem:renderFrame,data:[[-20,-20,20,20]],z:5,silent:true,animation:false});
});
// colour bar
grids.push({left:barLeft,top:panelTop,width:barWidth,height:panelHeight,show:false,outerBoundsMode:'none'});
xAxes.push({type:'value',gridIndex:4,min:0,max:1,show:false});
const barTick={show:true,inside:true,length:8,lineStyle:{color:'#222',width:1.4}};
yAxes.push({type:'value',gridIndex:4,min:0,max:1,interval:0.2,position:'right',name:'c',nameLocation:'middle',nameGap:52,nameRotate:90,
  nameTextStyle:{fontFamily:FONT,fontSize:48,color:'#000',padding:[0,14,0,0]},
  axisLine:{show:false},axisTick:barTick,splitLine:{show:false},axisLabel:Object.assign({margin:20,align:'left',hideOverlap:false},tickStyle)});
yAxes.push({type:'value',gridIndex:4,min:0,max:1,interval:0.2,position:'left',axisLine:{show:false},axisTick:barTick,splitLine:{show:false},axisLabel:{show:false}});
series.push({type:'custom',xAxisIndex:4,yAxisIndex:4,coordinateSystem:'cartesian2d',renderItem:renderBar,data:[[0,0]],z:1,silent:true,animation:false});
series.push({type:'custom',xAxisIndex:4,yAxisIndex:5,coordinateSystem:'cartesian2d',renderItem:renderFrame,data:[[0,0,1,1]],z:5,silent:true,animation:false});

const chart=echarts.init(document.getElementById('chart'),null,{renderer:'canvas',width:2868,height:783});
chart.setOption({animation:false,backgroundColor:'#fff',title:titles,grid:grids,xAxis:xAxes,yAxis:yAxes,series:series,tooltip:{show:false},
  graphic:[
    {type:'text',silent:true,x:2734,y:128,style:{text:'v [c]',font:'34px '+FONT,fill:'#006e00',align:'center',verticalAlign:'middle'}},
    {type:'line',silent:true,shape:{x1:2777,y1:101,x2:2838,y2:101},style:{stroke:'#0a8048',lineWidth:2.6}},
    {type:'polygon',silent:true,shape:{points:[[2843,101],[2827,96],[2831,101],[2827,106]]},style:{fill:'#0a8048'}}
  ]});
</script></body></html>
